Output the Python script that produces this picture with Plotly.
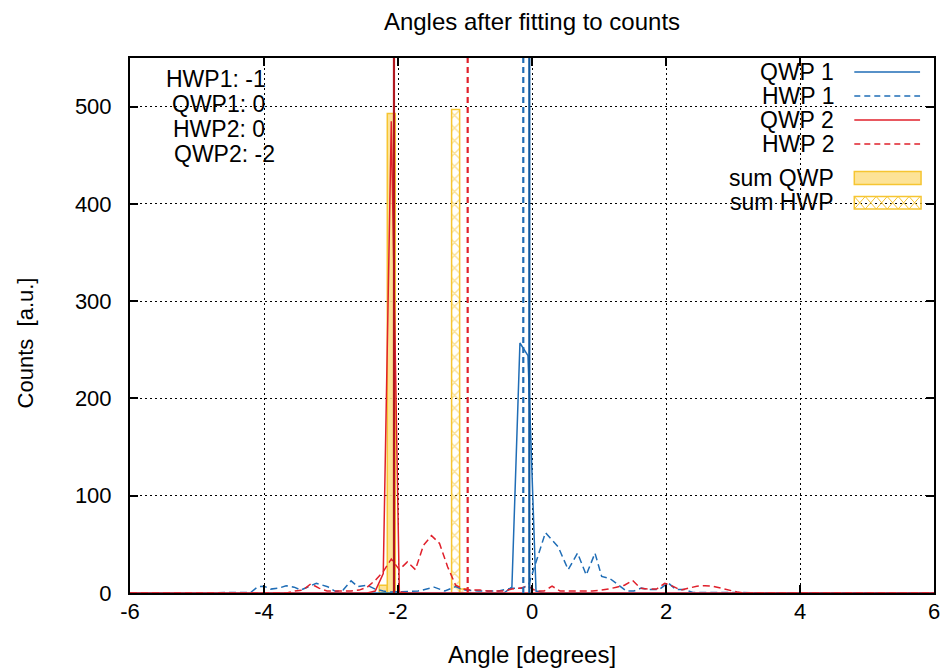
import plotly.graph_objects as go

# ---------------- data ----------------
qwp1_x = [-6.0, -0.42, -0.30, -0.18, -0.06, 0.06, 0.18, 6.0]
qwp1_y = [0, 0, 6, 257, 244, 2, 0, 0]

hwp1_x = [-6.0, -4.20, -4.09, -4.00, -3.90, -3.78, -3.67, -3.55, -3.45, -3.22, -3.05, -2.93,
          -2.82, -2.70, -2.60, -2.46, -2.34, -2.22, -2.10, -1.86, -1.70, -1.46, -1.30, -1.14,
          -1.02, -0.80, -0.50, -0.30, -0.15, -0.05, 0.20, 0.39, 0.54, 0.68, 0.81, 0.94,
          1.04, 1.16, 1.28, 1.41, 1.52, 1.63, 1.75, 1.90, 2.03, 2.15, 2.28, 2.40, 6.0]
hwp1_y = [0, 0.5, 6.5, 7, 4, 5, 7.5, 6, 3, 10, 6.5, 1.5,
          3, 12.5, 6.5, 8, 4, 2, 1, 2, 2, 6, 2, 6.5,
          3, 2, 2, 5, 5, 8, 62, 47.5, 24, 41, 18.5, 41,
          17, 15, 8.7, 2, 2, 5, 3.5, 3.5, 10.6, 3.5, 3.5, 0.5, 0]

qwp2_x = [-6.0, -2.46, -2.34, -2.22, -2.10, -1.98, -1.86, 6.0]
qwp2_y = [0, 0, 2, 20, 485, 1, 0, 0]

hwp2_x = [-6.0, -3.66, -3.54, -3.42, -3.30, -3.18, -3.06, -2.94, -2.82, -2.70, -2.58, -2.46,
          -2.34, -2.22, -2.10, -1.98, -1.86, -1.74, -1.62, -1.50, -1.38, -1.26, -1.14, -1.02,
          -0.90, -0.78, -0.66, -0.54, -0.42, -0.30, -0.18, -0.06, 0.06, 0.18, 0.30, 0.42,
          0.54, 0.66, 0.78, 0.90, 1.02, 1.14, 1.26, 1.38, 1.50, 1.62, 1.74, 1.86,
          1.98, 2.10, 2.22, 2.34, 2.46, 2.58, 2.70, 2.82, 2.94, 3.06, 3.18, 6.0]
hwp2_y = [0, 0, 2, 3, 9.5, 5, 2, 2, 2, 2, 3, 6,
          13, 22, 35, 24, 32, 24, 49, 59, 51, 27, 8, 4,
          3, 3, 2, 2, 2, 4, 5, 7, 2, 2, 7, 2,
          2, 2, 2, 2, 3, 4, 6, 8, 13, 5, 4, 4,
          10, 7, 3, 5, 7, 7.5, 7, 5, 3, 1, 0, 0]

bin_width = 0.12
sum_qwp_x = [-2.22, -2.10]
sum_qwp_y = [8, 493]
sum_hwp_x = [-1.14, -1.02]
sum_hwp_y = [497, 4]

# fitted angles (vertical lines)
fit_names = ["QWP 1", "HWP 1", "QWP 2", "HWP 2"]
fit_angles = [-0.04, -0.13, -2.06, -0.96]

text_lines = ["HWP1: -1", "QWP1: 0", "HWP2: 0", "QWP2: -2"]

x_ticks = [-6, -4, -2, 0, 2, 4, 6]
y_ticks = [0, 100, 200, 300, 400, 500]

# ---------------- style ----------------
BLUE = "#1f6db6"
BLUE_D = "#12599e"
RED = "#e0202b"
RED_D = "#b01820"
YEL_FILL = "rgba(253,224,140,0.9)"
YEL_LINE = "#f6c531"
FONT = "Liberation Sans, Arial, sans-serif"
FS = 23

L, R, T, B = 130, 937, 58, 593
W, H = 952, 670


def px(x):
    return (x - L) / (R - L)


def py(y):
    return (B - y) / (B - T)


fig = go.Figure()

fig.add_trace(go.Bar(x=sum_qwp_x, y=sum_qwp_y, width=bin_width,
                     marker=dict(color=YEL_FILL, line=dict(color=YEL_LINE, width=1.5)),
                     name="sum QWP", showlegend=False))
fig.add_trace(go.Bar(x=sum_hwp_x, y=sum_hwp_y, width=bin_width,
                     marker=dict(color="rgba(255,255,255,0)",
                                 line=dict(color=YEL_LINE, width=1.5),
                                 pattern=dict(shape="x", fgcolor=YEL_LINE, bgcolor="rgba(255,255,255,0)",
                                              size=9, solidity=0.3)),
                     name="sum HWP", showlegend=False))

fig.add_trace(go.Scatter(x=qwp1_x, y=qwp1_y, mode="lines", line=dict(color=BLUE, width=1.5),
                         name="QWP 1", showlegend=False))
fig.add_trace(go.Scatter(x=hwp1_x, y=hwp1_y, mode="lines",
                         line=dict(color=BLUE, width=1.5, dash="7px,4px"),
                         name="HWP 1", showlegend=False))
fig.add_trace(go.Scatter(x=qwp2_x, y=qwp2_y, mode="lines", line=dict(color=RED, width=1.5),
                         name="QWP 2", showlegend=False))
fig.add_trace(go.Scatter(x=hwp2_x, y=hwp2_y, mode="lines",
                         line=dict(color=RED, width=1.5, dash="7px,4px"),
                         name="HWP 2", showlegend=False))

# vertical lines for fitted angles
v_styles = [dict(color=BLUE_D, width=2.2, dash="solid"),
            dict(color=BLUE, width=2.2, dash="6px,4px"),
            dict(color=RED_D, width=2.2, dash="solid"),
            dict(color=RED, width=2.2, dash="6px,4px")]
for ang, st in zip(fit_angles, v_styles):
    fig.add_vline(x=ang, line=st, layer="above")

# ---------------- custom legend ----------------
leg_rows = [72, 96, 120, 144, 178, 202]
leg_labels = ["QWP 1", "HWP 1", "QWP 2", "HWP 2", "sum QWP", "sum HWP"]
x0s, x1s = px(857), px(923)
annos = []
for yy, lab in zip(leg_rows, leg_labels):
    annos.append(dict(x=px(839), y=py(yy), xref="paper", yref="paper", text=lab,
                      showarrow=False, xanchor="right", yanchor="middle",
                      font=dict(family=FONT, size=FS, color="black")))
line_styles = [dict(color=BLUE, width=1.5), dict(color=BLUE, width=1.5, dash="6px,4px"),
               dict(color=RED, width=1.5), dict(color=RED, width=1.5, dash="6px,4px")]
for yy, ls in zip(leg_rows[:4], line_styles):
    fig.add_shape(type="line", xref="paper", yref="paper", x0=x0s, x1=x1s,
                  y0=py(yy), y1=py(yy), line=ls)
fig.add_shape(type="rect", xref="paper", yref="paper", x0=x0s, x1=px(924),
              y0=py(184.5), y1=py(171.5), fillcolor=YEL_FILL, line=dict(color=YEL_LINE, width=1.5))
fig.add_shape(type="rect", xref="paper", yref="paper", x0=x0s, x1=px(924),
              y0=py(209), y1=py(196.5), fillcolor="rgba(0,0,0,0)", line=dict(color=YEL_LINE, width=1.5))
step = 11
xs = list(range(857, 925, step))
path_a = "M " + " L ".join(f"{px(x):.5f},{py(209 if k % 2 == 0 else 196.5):.5f}" for k, x in enumerate(xs))
path_b = "M " + " L ".join(f"{px(x):.5f},{py(196.5 if k % 2 == 0 else 209):.5f}" for k, x in enumerate(xs))
fig.add_shape(type="path", xref="paper", yref="paper", path=path_a, line=dict(color=YEL_LINE, width=1))
fig.add_shape(type="path", xref="paper", yref="paper", path=path_b, line=dict(color=YEL_LINE, width=1))

# text block top-left
text_pos = [(216, 79), (219, 104), (219, 129), (225, 154)]
for (tx, ty), t in zip(text_pos, text_lines):
    annos.append(dict(x=px(tx), y=py(ty), xref="paper", yref="paper", text=t, showarrow=False,
                      xanchor="center", yanchor="middle",
                      font=dict(family=FONT, size=FS, color="black")))

# axis titles
annos.append(dict(x=0.5, y=py(654), xref="paper", yref="paper", text="Angle [degrees]",
                  showarrow=False, xanchor="center", yanchor="middle",
                  font=dict(family=FONT, size=24, color="black")))
annos.append(dict(x=px(25), y=py(343), xref="paper", yref="paper", text="Counts  [a.u.]",
                  showarrow=False, xanchor="center", yanchor="middle", textangle=-90,
                  font=dict(family=FONT, size=22, color="black")))

axis_common = dict(showline=True, linecolor="black", linewidth=2, mirror="ticks",
                   ticks="inside", ticklen=8, tickwidth=1.5, tickcolor="black",
                   showgrid=True, gridcolor="black", griddash="2px,3px", gridwidth=1,
                   zeroline=False, tickfont=dict(family=FONT, size=22, color="black"))

fig.update_layout(
    width=W, height=H,
    margin=dict(l=L, r=W - R, t=T, b=H - B),
    plot_bgcolor="white", paper_bgcolor="white",
    barmode="overlay", showlegend=False,
    title=dict(text="Angles after fitting to counts", x=0.5, xref="paper",
               y=1 - 22 / H, yref="container", yanchor="middle", xanchor="center",
               font=dict(family=FONT, size=24, color="black")),
    xaxis=dict(range=[-6, 6], tickvals=x_ticks, ticktext=[str(v) for v in x_ticks],
               ticklabelstandoff=-2, **axis_common),
    yaxis=dict(range=[0, 550], tickvals=y_ticks, ticktext=[str(v) for v in y_ticks],
               ticklabelstandoff=12, **axis_common),
    annotations=annos,
)

fig.write_html("out.html")
